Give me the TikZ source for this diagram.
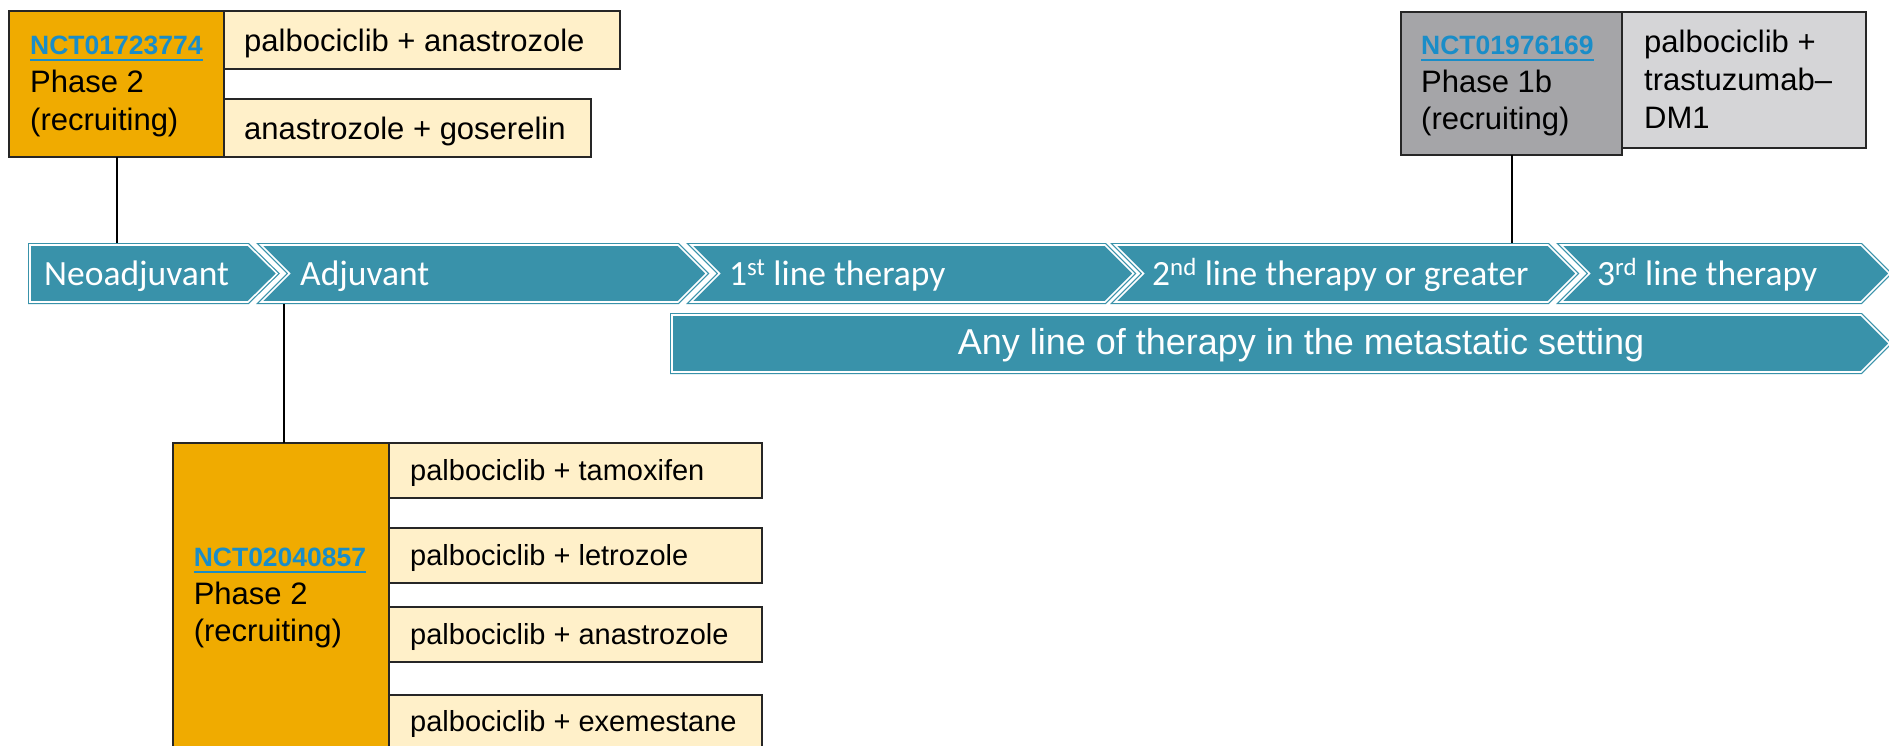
\documentclass[tikz,border=0pt]{standalone}
\usepackage{fontspec}
\setmainfont{Liberation Sans}
\newfontfamily\calib{Carlito}
\definecolor{orng}{HTML}{F0AB00}
\definecolor{cream}{HTML}{FFF0C9}
\definecolor{grayA}{HTML}{A5A5A8}
\definecolor{grayB}{HTML}{D5D5D7}
\definecolor{tealA}{HTML}{3992AA}
\definecolor{linkblue}{HTML}{1A8DC8}
\newcommand\ulnct[1]{\sbox0{#1}\rlap{\rule[-6.2pt]{\wd0}{2.4pt}}\usebox0}
\tikzset{
  box/.style={draw=black!85, line width=1.6pt, inner sep=0pt, outer sep=0pt, anchor=north west},
  obox/.style={box, fill=orng},
  cbox/.style={box, fill=cream},
  gbox/.style={box, fill=grayA},
  lgbox/.style={box, fill=grayB},
  txt/.style={inner sep=0pt, anchor=base west, font=\fontsize{31}{37}\selectfont},
  stxt/.style={inner sep=0pt, anchor=base west, font=\fontsize{29}{35}\selectfont},
  nct/.style={inner sep=0pt, anchor=base west, text=linkblue, font=\fontsize{26.5}{32}\selectfont\bfseries},
  chevtxt/.style={inner sep=0pt, anchor=base west, text=white, font=\calib\fontsize{35.5}{42}\selectfont},
  bigtxt/.style={inner sep=0pt, anchor=base, text=white, font=\fontsize{36}{42}\selectfont},
  chev/.style={fill=tealA, draw=tealA, double=white, double distance=1.6pt, line width=1.2pt, line join=miter},
  conn/.style={draw=black, line width=2pt}
}
\begin{document}
\begin{tikzpicture}[x=1pt,y=-1pt]
\useasboundingbox (0,0) rectangle (1889,746);
\clip (0,0) rectangle (1889,746);

% chevrons row 1
\path[chev] (30,245) -- (248,245) -- (277,273.5) -- (248,302) -- (30,302) -- cycle;
\path[chev] (261,245) -- (678,245) -- (706.5,273.5) -- (678,302) -- (261,302) -- (289.5,273.5) -- cycle;
\path[chev] (691,245) -- (1105,245) -- (1133.5,273.5) -- (1105,302) -- (691,302) -- (719.5,273.5) -- cycle;
\path[chev] (1115,245) -- (1548,245) -- (1576.5,273.5) -- (1548,302) -- (1115,302) -- (1143.5,273.5) -- cycle;
\path[chev] (1561,245) -- (1861,245) -- (1889.5,273.5) -- (1861,302) -- (1561,302) -- (1589.5,273.5) -- cycle;
% row 2
\path[chev] (672,315) -- (1861,315) -- (1889.5,343.5) -- (1861,372) -- (672,372) -- cycle;

\node[chevtxt] (neo) at (44,285) {Neoadjuvant};
\node[chevtxt] (adj) at (300,285) {Adjuvant};
\node[chevtxt] (l1) at (729,285) {1\textsuperscript{st} line therapy};
\node[chevtxt] (l2) at (1152,285) {2\textsuperscript{nd} line therapy or greater};
\node[chevtxt] (l3) at (1597,285) {3\textsuperscript{rd} line therapy};
\node[bigtxt] (any) at (1301,354) {Any line of therapy in the metastatic setting};

\coordinate (neoTop) at (116.5,243);
\coordinate (adjBot) at (284,304);
\coordinate (l2Top) at (1511.5,243);

% top-left trial
\node[obox, minimum width=215, minimum height=146] (t1) at (9,11) {};
\node[cbox, minimum width=396, minimum height=58] (t1a) at (224,11) {};
\node[cbox, minimum width=367, minimum height=58] (t1b) at (224,99) {};
\node[nct] (t1n) at (30,55) {\ulnct{NCT01723774}};
\node[txt] (t1p) at (30,92.7) {Phase 2};
\node[txt] (t1r) at (30,130.5) {(recruiting)};
\node[txt] (t1at) at (244,51.7) {palbociclib + anastrozole};
\node[txt] (t1bt) at (244,139.3) {anastrozole + goserelin};

% top-right trial
\node[gbox, minimum width=221, minimum height=143] (g1) at (1401,12) {};
\node[lgbox, minimum width=244, minimum height=136] (g1a) at (1622,12) {};
\node[nct] (g1n) at (1421,55) {\ulnct{NCT01976169}};
\node[txt] (g1p) at (1421,92.7) {Phase 1b};
\node[txt] (g1r) at (1421,130) {(recruiting)};
\node[txt] (g1t1) at (1644,53) {palbociclib +};
\node[txt] (g1t2) at (1644,90.7) {trastuzumab–};
\node[txt] (g1t3) at (1644,128.3) {DM1};

% bottom trial
\node[obox, minimum width=216, minimum height=330] (b2) at (173,443) {};
\node[cbox, minimum width=373, minimum height=55] (b2a) at (389,443) {};
\node[cbox, minimum width=373, minimum height=55] (b2b) at (389,528) {};
\node[cbox, minimum width=373, minimum height=55] (b2c) at (389,607) {};
\node[cbox, minimum width=373, minimum height=80] (b2d) at (389,695) {};
\node[nct] (b2n) at (193.6,566.7) {\ulnct{NCT02040857}};
\node[txt] (b2p) at (193.6,604) {Phase 2};
\node[txt] (b2r) at (193.6,641.7) {(recruiting)};
\node[stxt] (b2at) at (410,480.7) {palbociclib + tamoxifen};
\node[stxt] (b2bt) at (410,565.7) {palbociclib + letrozole};
\node[stxt] (b2ct) at (410,644) {palbociclib + anastrozole};
\node[stxt] (b2dt) at (410,731.7) {palbociclib + exemestane};

% connectors
\draw[conn] (t1.south) -- (neoTop);
\draw[conn] (adjBot) -- (adjBot |- b2.north);
\draw[conn] (g1.south) -- (l2Top);
\end{tikzpicture}
\end{document}
